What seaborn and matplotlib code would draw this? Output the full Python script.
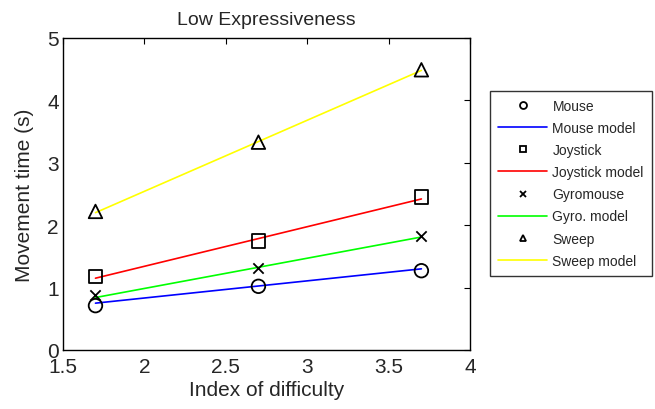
import matplotlib
matplotlib.use("Agg")
import matplotlib.pyplot as plt
from matplotlib.lines import Line2D
import seaborn as sns

# Data
idx = [1.7, 2.7, 3.7]
mouse = [0.71, 1.02, 1.27]
joystick = [1.18, 1.75, 2.45]
gyromouse = [0.88, 1.31, 1.83]
sweep = [2.22, 3.33, 4.49]

model_x = [1.7, 3.7]
mouse_model = [0.75, 1.30]
joystick_model = [1.15, 2.42]
gyro_model = [0.84, 1.81]
sweep_model = [2.20, 4.48]

labels = ["Mouse", "Mouse model", "Joystick", "Joystick model",
          "Gyromouse", "Gyro. model", "Sweep", "Sweep model"]
xticks = [1.5, 2, 2.5, 3, 3.5, 4]
xticklabels = ["1.5", "2", "2.5", "3", "3.5", "4"]
yticks = [0, 1, 2, 3, 4, 5]

sns.set_style("white")
plt.rcParams["font.family"] = ["Liberation Sans", "DejaVu Sans"]

fig = plt.figure(figsize=(6.55, 4.1), dpi=100)
ax = fig.add_axes([0.096, 0.144, 0.622, 0.761])

series = [
    (mouse, mouse_model, "o", "#0000ff"),
    (joystick, joystick_model, "s", "#ff0000"),
    (gyromouse, gyro_model, "x", "#00ff00"),
    (sweep, sweep_model, "^", "#ffff00"),
]

handles = []
for pts, mdl, mk, col in series:
    sns.lineplot(x=model_x, y=mdl, color=col, lw=1.2, ax=ax, zorder=2)
    if mk == "x":
        sns.scatterplot(x=idx, y=pts, marker="x", color="k", s=55,
                        linewidth=1.3, ax=ax, zorder=3)
    else:
        sns.scatterplot(x=idx, y=pts, marker=mk, s=95, facecolor="none",
                        edgecolor="k", linewidth=1.3, ax=ax, zorder=3)
    handles.append(Line2D([], [], linestyle="none", marker=mk, markersize=5,
                          markerfacecolor="none" if mk != "x" else "k",
                          markeredgecolor="k", markeredgewidth=1.3))
    handles.append(Line2D([], [], color=col, lw=1.2))

ax.set_xlim(1.5, 4)
ax.set_ylim(0, 5)
ax.set_xticks(xticks)
ax.set_xticklabels(xticklabels)
ax.set_yticks(yticks)
ax.tick_params(direction="in", top=True, right=True, length=4,
               labelsize=15, color="k")
ax.tick_params(axis="x", pad=5)
ax.tick_params(axis="y", pad=3)
for sp in ax.spines.values():
    sp.set_color("k")
    sp.set_linewidth(1.0)

ax.set_xlabel("Index of difficulty", fontsize=15, labelpad=3)
ax.set_ylabel("Movement time (s)", fontsize=15, labelpad=9)
ax.set_title("Low Expressiveness", fontsize=14, pad=10)

leg = fig.legend(handles, labels, loc="upper left",
                 bbox_to_anchor=(0.748, 0.776), fontsize=10,
                 frameon=True, fancybox=False, edgecolor="k",
                 handlelength=3.5, handletextpad=0.4, labelspacing=0.58,
                 borderpad=0.6, borderaxespad=0)
leg.get_frame().set_linewidth(1.0)

fig.savefig("out.png", dpi=100)
